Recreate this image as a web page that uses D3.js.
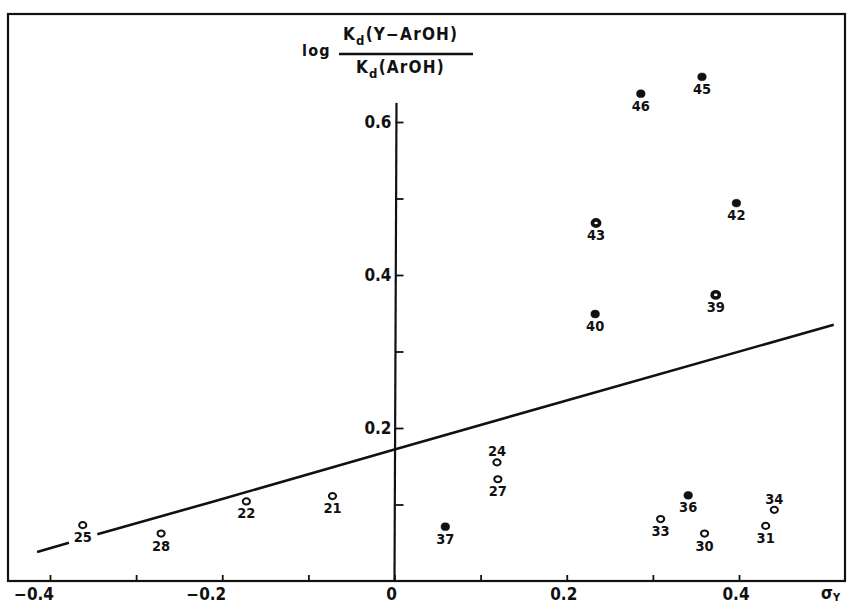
<!DOCTYPE html>
<html>
<head>
<meta charset="utf-8">
<script src="https://cdn.jsdelivr.net/npm/d3@7"></script>
<style>
  body { margin: 0; background: #fff; }
  svg { display: block; }
  text { font-family: "DejaVu Sans Condensed", "DejaVu Sans", sans-serif; font-weight: bold; fill: #111; }
</style>
</head>
<body>
<div id="chart"></div>
<script>
// compound numbers, sigma_Y and log Kd ratio
const ids      = ['45', '46', '42', '43', '39', '40', '24', '27', '37', '36', '33', '30', '34', '31', '25', '28', '22', '21'];
const sigmaY   = [0.357, 0.286, 0.397, 0.234, 0.373, 0.233, 0.119, 0.120, 0.059, 0.341, 0.309, 0.360, 0.441, 0.431, -0.362, -0.271, -0.172, -0.072];
const logRatio = [0.659, 0.637, 0.494, 0.468, 0.374, 0.349, 0.155, 0.133, 0.071, 0.112, 0.081, 0.062, 0.093, 0.072, 0.073, 0.062, 0.104, 0.111];
// f = filled, h = heavy ring, o = open ring
const marker   = ['f', 'f', 'f', 'h', 'h', 'f', 'o', 'o', 'f', 'f', 'o', 'o', 'o', 'o', 'o', 'o', 'o', 'o'];
const labelPos = ['b', 'b', 'b', 'b', 'b', 'b', 'a', 'b', 'b', 'b', 'b', 'b', 'a', 'b', 'b', 'b', 'b', 'b'];

// straight line drawn through the points (broken around label 25)
const lineA = [[-0.415, 0.038], [-0.378, 0.050]];
const lineB = [[-0.345, 0.061], [-0.207, 0.105], [0.0, 0.172], [0.51, 0.335]];

const xTicks = [-0.4, -0.3, -0.2, -0.1, 0, 0.1, 0.2, 0.3, 0.4];
const xTickLabels = ['-0.4', '-0.2', '0', '0.2', '0.4'];
const yTicks = [0.1, 0.2, 0.3, 0.4, 0.5, 0.6];
const yTickLabels = ['0.2', '0.4', '0.6'];
const yAxisTop = 0.625;

const width = 848, height = 606;
const frame = {left: 8, top: 14, right: 845};

const x = d3.scaleLinear().domain([-0.4, 0.4]).range([50, 739]);
const y = d3.scaleLinear().domain([0, 0.6]).range([581, 122]);

const svg = d3.select('#chart').append('svg')
  .attr('width', width)
  .attr('height', height);

// frame
svg.append('rect')
  .attr('x', frame.left).attr('y', frame.top)
  .attr('width', frame.right - frame.left).attr('height', y(0) - frame.top)
  .attr('fill', 'none').attr('stroke', '#111').attr('stroke-width', 2.2);

// x ticks pointing up from the bottom line
const xAxis = svg.append('g')
  .attr('transform', `translate(0,${y(0)})`)
  .call(d3.axisTop(x).tickValues(xTicks).tickSize(6).tickFormat(''));
xAxis.select('.domain').remove();
xAxis.selectAll('line').attr('stroke', '#111').attr('stroke-width', 1.8);

svg.append('g').selectAll('text')
  .data(xTickLabels)
  .enter().append('text')
  .attr('x', d => +d < 0 ? x(+d) + 4 : x(+d) - 3)
  .attr('y', 600)
  .attr('text-anchor', d => +d < 0 ? 'end' : 'middle')
  .attr('font-size', 17)
  .text(d => d.replace('-', '\u2212'));

// y axis with ticks on the right
svg.append('line')
  .attr('x1', x(0)).attr('x2', x(0) + 2)
  .attr('y1', y(0)).attr('y2', y(yAxisTop))
  .attr('stroke', '#111').attr('stroke-width', 2.2);
const yAxis = svg.append('g')
  .attr('transform', `translate(${x(0) + 1},0)`)
  .call(d3.axisRight(y).tickValues(yTicks).tickSize(8).tickFormat(''));
yAxis.select('.domain').remove();
yAxis.selectAll('line').attr('stroke', '#111').attr('stroke-width', 1.8);

svg.append('g').selectAll('text')
  .data(yTickLabels)
  .enter().append('text')
  .attr('x', x(0) - 3)
  .attr('y', d => y(+d) + 6)
  .attr('text-anchor', 'end')
  .attr('font-size', 17)
  .text(d => d);

// y title: log Kd(Y-ArOH)/Kd(ArOH)
const title = svg.append('g').attr('letter-spacing', 1.2);
title.append('text').attr('x', 302).attr('y', 56).attr('font-size', 16).text('log');
const num = title.append('text').attr('x', 343).attr('y', 40).attr('font-size', 17);
num.append('tspan').text('K');
num.append('tspan').attr('dy', 5).attr('font-size', 13).text('d');
num.append('tspan').attr('dy', -5).text('(Y\u2212ArOH)');
title.append('line')
  .attr('x1', 339).attr('x2', 473).attr('y1', 54).attr('y2', 54)
  .attr('stroke', '#111').attr('stroke-width', 2.4);
const den = title.append('text').attr('x', 356).attr('y', 73).attr('font-size', 17);
den.append('tspan').text('K');
den.append('tspan').attr('dy', 5).attr('font-size', 13).text('d');
den.append('tspan').attr('dy', -5).text('(ArOH)');

// sigma_Y axis name
const sig = svg.append('text').attr('x', 821).attr('y', 599).attr('font-size', 17);
sig.append('tspan').text('\u03c3');
sig.append('tspan').attr('dy', 2).attr('font-size', 11).text('Y');

// regression line
const line = d3.line().x(d => x(d[0])).y(d => y(d[1]));
svg.selectAll('.fit')
  .data([lineA, lineB])
  .enter().append('path')
  .attr('class', 'fit')
  .attr('d', line)
  .attr('fill', 'none').attr('stroke', '#111').attr('stroke-width', 2.6);

// points
const pts = ids.map((id, i) => ({id, sx: sigmaY[i], ly: logRatio[i], m: marker[i], pos: labelPos[i]}));
const g = svg.selectAll('.pt')
  .data(pts)
  .enter().append('g')
  .attr('class', 'pt')
  .attr('transform', d => `translate(${x(d.sx)},${y(d.ly)})`);

g.append('ellipse')
  .attr('rx', d => d.m === 'f' ? 4.3 : 3.6)
  .attr('ry', d => d.m === 'f' ? 3.9 : 3.1)
  .attr('fill', d => d.m === 'f' ? '#111' : '#fff')
  .attr('stroke', '#111')
  .attr('stroke-width', d => d.m === 'f' ? 0.5 : (d.m === 'h' ? 3.6 : 2));

g.append('text')
  .attr('text-anchor', 'middle')
  .attr('y', d => d.pos === 'a' ? -6 : 17)
  .attr('font-size', 14.5)
  .text(d => d.id);
</script>
</body>
</html>
